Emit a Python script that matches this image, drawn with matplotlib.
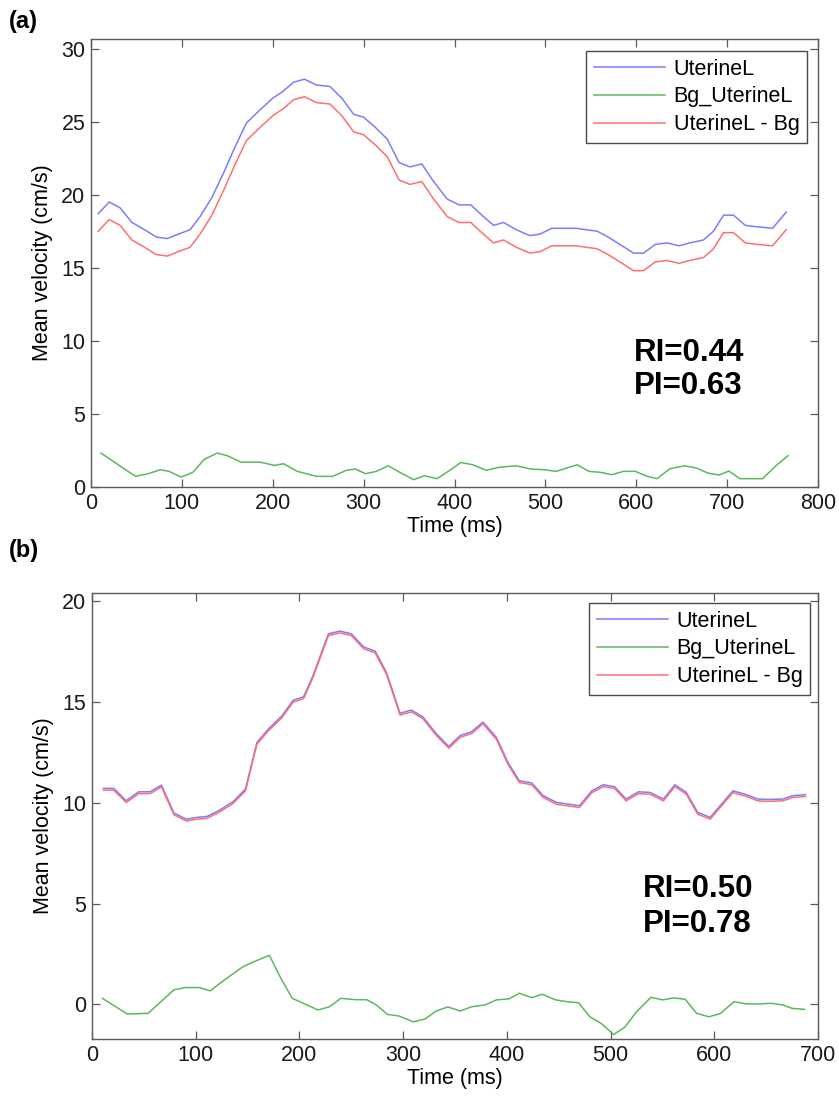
import matplotlib
matplotlib.use("Agg")
import matplotlib.pyplot as plt

plt.rcParams['font.family'] = ['Liberation Sans', 'DejaVu Sans']

# ---------------- Panel (a) data ----------------
time_a = [8, 20, 32, 45, 59, 72, 84, 96, 109, 120, 133, 146, 158, 171, 186, 200, 212, 223, 235, 248,
          263, 276, 289, 300, 313, 326, 339, 351, 364, 377, 392, 405, 418, 430, 443, 454, 468, 483, 494, 507,
          520, 534, 545, 557, 569, 582, 597, 608, 621, 634, 647, 659, 674, 685, 696, 707, 720, 733, 750, 765]
uterine_a = [18.7, 19.5, 19.1, 18.1, 17.6, 17.1, 17.0, 17.3, 17.6, 18.5, 19.8, 21.5, 23.2, 24.9, 25.8, 26.6, 27.1, 27.7, 27.9, 27.5,
             27.4, 26.6, 25.5, 25.3, 24.6, 23.8, 22.2, 21.9, 22.1, 20.9, 19.7, 19.3, 19.3, 18.6, 17.9, 18.1, 17.6, 17.2, 17.3, 17.7,
             17.7, 17.7, 17.6, 17.5, 17.1, 16.6, 16.0, 16.0, 16.6, 16.7, 16.5, 16.7, 16.9, 17.5, 18.6, 18.6, 17.9, 17.8, 17.7, 18.8]
corrected_a = [17.5, 18.3, 17.9, 16.9, 16.4, 15.9, 15.8, 16.1, 16.4, 17.3, 18.6, 20.3, 22.0, 23.7, 24.6, 25.4, 25.9, 26.5, 26.7, 26.3,
               26.2, 25.4, 24.3, 24.1, 23.4, 22.6, 21.0, 20.7, 20.9, 19.7, 18.5, 18.1, 18.1, 17.4, 16.7, 16.9, 16.4, 16.0, 16.1, 16.5,
               16.5, 16.5, 16.4, 16.3, 15.9, 15.4, 14.8, 14.8, 15.4, 15.5, 15.3, 15.5, 15.7, 16.3, 17.4, 17.4, 16.7, 16.6, 16.5, 17.6]
bg_time_a = [11, 30, 49, 63, 76, 86, 99, 112, 125, 139, 150, 165, 186, 202, 212, 227, 248, 266, 281, 291,
             302, 314, 327, 340, 355, 367, 381, 394, 407, 420, 435, 448, 468, 484, 499, 512, 520, 535, 548, 561,
             573, 586, 599, 612, 623, 637, 653, 666, 679, 691, 702, 714, 739, 753, 767]
bg_a = [2.32, 1.52, 0.73, 0.91, 1.18, 1.07, 0.68, 1.0, 1.91, 2.32, 2.14, 1.70, 1.70, 1.48, 1.59, 1.07, 0.73, 0.73, 1.14, 1.23,
        0.91, 1.07, 1.45, 1.0, 0.5, 0.77, 0.57, 1.11, 1.68, 1.52, 1.14, 1.34, 1.45, 1.23, 1.18, 1.07, 1.23, 1.52, 1.07, 1.0,
        0.84, 1.07, 1.07, 0.73, 0.57, 1.25, 1.45, 1.30, 0.95, 0.82, 1.09, 0.57, 0.57, 1.41, 2.14]

# ---------------- Panel (b) data ----------------
time_b = [11, 21, 33, 45, 56, 67, 79, 91, 101, 111, 122, 136, 148, 159, 170, 183, 194, 204, 213, 228,
          239, 250, 262, 273, 284, 297, 308, 319, 331, 344, 355, 366, 377, 390, 401, 412, 424, 435, 448, 459,
          470, 482, 493, 504, 515, 527, 538, 551, 562, 573, 584, 596, 607, 618, 631, 642, 653, 666, 676, 688]
uterine_b = [10.71, 10.71, 10.1, 10.54, 10.54, 10.87, 9.49, 9.18, 9.27, 9.32, 9.6, 10.05, 10.68, 12.99, 13.65, 14.3, 15.08, 15.25, 16.29, 18.38,
             18.51, 18.38, 17.72, 17.52, 16.45, 14.44, 14.59, 14.26, 13.48, 12.79, 13.33, 13.52, 14.0, 13.23, 12.0, 11.09, 10.98, 10.35, 10.01, 9.93,
             9.85, 10.59, 10.89, 10.79, 10.18, 10.54, 10.51, 10.18, 10.89, 10.51, 9.52, 9.27, 9.93, 10.59, 10.4, 10.18, 10.16, 10.18, 10.35, 10.4]
corrected_b = [10.62, 10.62, 10.01, 10.45, 10.45, 10.78, 9.40, 9.09, 9.18, 9.23, 9.51, 9.96, 10.59, 12.90, 13.56, 14.21, 14.99, 15.16, 16.20, 18.29,
               18.42, 18.29, 17.63, 17.43, 16.36, 14.35, 14.50, 14.17, 13.39, 12.70, 13.24, 13.43, 13.91, 13.14, 11.91, 11.00, 10.89, 10.26, 9.92, 9.84,
               9.76, 10.50, 10.80, 10.70, 10.09, 10.45, 10.42, 10.09, 10.80, 10.42, 9.43, 9.18, 9.84, 10.50, 10.31, 10.09, 10.07, 10.09, 10.26, 10.31]
bg_time_b = [10, 34, 54, 79, 90, 103, 114, 130, 146, 157, 171, 182, 193, 206, 218, 229, 240, 254, 265, 274,
             285, 296, 310, 321, 332, 343, 355, 366, 379, 390, 402, 412, 424, 434, 447, 458, 469, 480, 491, 503,
             514, 525, 539, 550, 561, 572, 583, 595, 606, 619, 631, 644, 655, 666, 675, 687]
bg_b = [0.3, -0.48, -0.45, 0.72, 0.83, 0.83, 0.67, 1.3, 1.88, 2.13, 2.43, 1.3, 0.3, 0.0, -0.28, -0.12, 0.3, 0.23, 0.23, -0.03,
        -0.5, -0.58, -0.87, -0.73, -0.33, -0.13, -0.33, -0.12, -0.03, 0.22, 0.27, 0.55, 0.33, 0.5, 0.22, 0.13, 0.08, -0.62, -0.95, -1.5,
        -1.12, -0.37, 0.35, 0.22, 0.32, 0.25, -0.45, -0.62, -0.45, 0.13, 0.02, 0.02, 0.05, -0.03, -0.2, -0.25]

labels = ["UterineL", "Bg_UterineL", "UterineL - Bg"]
ri_pi_a = ["RI=0.44", "PI=0.63"]
ri_pi_b = ["RI=0.50", "PI=0.78"]

C_BLUE = "#7c7cff"
C_GREEN = "#5cb85c"
C_RED = "#ff6f6f"
SPINE = "#5a5a5a"
FS = 15.5

W, H = 839, 1098
fig = plt.figure(figsize=(W / 100, H / 100), dpi=100)


def fx(px):
    return px / W


def fy(py):
    return 1 - py / H


def style(ax, xlim, ylim, xticks, yticks):
    ax.set_xlim(*xlim)
    ax.set_ylim(*ylim)
    ax.set_xticks(xticks)
    ax.set_yticks(yticks)
    ax.tick_params(direction='in', length=6, width=0.9, color=SPINE,
                   top=True, right=True, labelsize=FS, labelcolor='#1a1a1a', pad=4)
    for s in ax.spines.values():
        s.set_color(SPINE)
        s.set_linewidth(1.0)
    ax.set_xlabel("Time (ms)", fontsize=FS, labelpad=2)
    ax.set_ylabel("Mean velocity (cm/s)", fontsize=FS, labelpad=6)


# Panel (a)
ax1 = fig.add_axes([fx(91), fy(487), fx(818 - 91), (487 - 39) / H])
ax1.plot(time_a, uterine_a, color=C_BLUE, lw=1.1, label=labels[0])
ax1.plot(bg_time_a, bg_a, color=C_GREEN, lw=1.1, label=labels[1])
ax1.plot(time_a, corrected_a, color=C_RED, lw=1.1, label=labels[2])
style(ax1, (0, 800), (0, 30.65), range(0, 801, 100), range(0, 31, 5))

# Panel (b)
ax2 = fig.add_axes([fx(92), fy(1039), fx(818 - 92), (1039 - 593) / H])
ax2.plot(time_b, uterine_b, color=C_BLUE, lw=1.1, label=labels[0])
ax2.plot(bg_time_b, bg_b, color=C_GREEN, lw=1.1, label=labels[1])
ax2.plot(time_b, corrected_b, color=C_RED, lw=1.1, label=labels[2])
style(ax2, (0, 700), (-1.72, 20.4), range(0, 701, 100), range(0, 21, 5))

for ax, (lx, ly) in ((ax1, (807, 51)), (ax2, (810, 603))):
    inv = ax.transAxes.inverted()
    disp = fig.transFigure.transform((fx(lx), fy(ly)))
    ax_pt = inv.transform(disp)
    leg = ax.legend(loc='upper right', bbox_to_anchor=tuple(ax_pt), borderaxespad=0,
                    fontsize=FS, frameon=True, fancybox=False, handlelength=3.3,
                    handletextpad=0.4, labelspacing=0.32, borderpad=0.35)
    fr = leg.get_frame()
    fr.set_edgecolor('#4a4a4a')
    fr.set_linewidth(1.0)
    fr.set_alpha(1)

# RI / PI annotations
fig.text(fx(634), fy(361), ri_pi_a[0], fontsize=22.5, fontweight='bold', va='baseline', ha='left')
fig.text(fx(634), fy(394), ri_pi_a[1], fontsize=22.5, fontweight='bold', va='baseline', ha='left')
fig.text(fx(643), fy(897), ri_pi_b[0], fontsize=22.5, fontweight='bold', va='baseline', ha='left')
fig.text(fx(643), fy(932), ri_pi_b[1], fontsize=22.5, fontweight='bold', va='baseline', ha='left')

# Panel letters
fig.text(fx(9), fy(28), "(a)", fontsize=17, fontweight='bold', va='baseline', ha='left')
fig.text(fx(9), fy(557), "(b)", fontsize=17, fontweight='bold', va='baseline', ha='left')

fig.savefig("out.png", dpi=100)
